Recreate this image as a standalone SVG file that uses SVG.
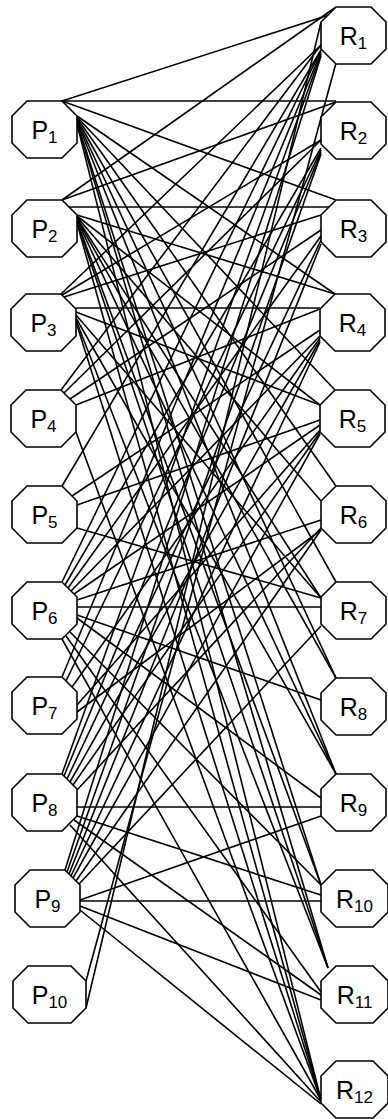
<svg xmlns="http://www.w3.org/2000/svg" width="388" height="1119" viewBox="0 0 388 1119">
<style>
.n{fill:#fff;stroke:#000;stroke-width:1.6}
.e line{stroke:#000;stroke-width:1.6}
.l{font-family:"Liberation Sans",Arial,sans-serif;font-size:25px;fill:#000;text-anchor:middle}
.s{font-size:17px}
</style>
<defs>
<path id="o" d="M15,0H50L65,15V42L50,57H15L0,42V15Z"/>
<path id="ow" d="M15,0H52L67,15V42L52,57H15L0,42V15Z"/>
<path id="ow2" d="M15,0H58L73,15V42L58,57H15L0,42V15Z"/>
</defs>
<rect width="388" height="1119" fill="#fff"/>
<g id="connectors" class="e">
<line x1="62" y1="101" x2="329" y2="15"/>
<line x1="62" y1="101" x2="336" y2="101"/>
<line x1="62" y1="101" x2="336" y2="200"/>
<line x1="77" y1="116" x2="335" y2="294"/>
<line x1="77" y1="117" x2="335" y2="390"/>
<line x1="77" y1="118" x2="336" y2="486"/>
<line x1="77" y1="119" x2="336" y2="582"/>
<line x1="77" y1="120" x2="336" y2="678"/>
<line x1="77" y1="121" x2="336" y2="774"/>
<line x1="77" y1="122" x2="321" y2="885"/>
<line x1="77" y1="123" x2="328" y2="968"/>
<line x1="77" y1="124" x2="321" y2="1100"/>
<line x1="62" y1="200" x2="336" y2="7"/>
<line x1="62" y1="200" x2="336" y2="102"/>
<line x1="63" y1="207" x2="336" y2="207"/>
<line x1="77" y1="215" x2="335" y2="294"/>
<line x1="77" y1="216" x2="320" y2="405"/>
<line x1="77" y1="217" x2="321" y2="501"/>
<line x1="77" y1="218" x2="321" y2="598"/>
<line x1="77" y1="219" x2="336" y2="678"/>
<line x1="77" y1="220" x2="336" y2="774"/>
<line x1="77" y1="221" x2="321" y2="885"/>
<line x1="77" y1="222" x2="328" y2="968"/>
<line x1="77" y1="223" x2="321" y2="1100"/>
<line x1="61" y1="294" x2="321" y2="45"/>
<line x1="62" y1="295" x2="321" y2="140"/>
<line x1="64" y1="297" x2="321" y2="215"/>
<line x1="76" y1="308" x2="320" y2="308"/>
<line x1="76" y1="312" x2="320" y2="405"/>
<line x1="76" y1="315" x2="321" y2="598"/>
<line x1="76" y1="318" x2="336" y2="774"/>
<line x1="76" y1="320" x2="328" y2="968"/>
<line x1="76" y1="322" x2="321" y2="1100"/>
<line x1="61" y1="390" x2="321" y2="45"/>
<line x1="64" y1="393" x2="321" y2="140"/>
<line x1="70" y1="399" x2="321" y2="230"/>
<line x1="76" y1="405" x2="320" y2="309"/>
<line x1="76" y1="432" x2="321" y2="1100"/>
<line x1="62" y1="486" x2="321" y2="50"/>
<line x1="72" y1="496" x2="320" y2="330"/>
<line x1="77" y1="505" x2="320" y2="420"/>
<line x1="77" y1="528" x2="321" y2="598"/>
<line x1="62" y1="582" x2="321" y2="50"/>
<line x1="65" y1="585" x2="321" y2="148"/>
<line x1="68" y1="588" x2="321" y2="236"/>
<line x1="71" y1="591" x2="320" y2="336"/>
<line x1="74" y1="594" x2="320" y2="425"/>
<line x1="77" y1="600" x2="321" y2="520"/>
<line x1="77" y1="607" x2="321" y2="607"/>
<line x1="77" y1="615" x2="321" y2="700"/>
<line x1="77" y1="618" x2="321" y2="798"/>
<line x1="70" y1="632" x2="321" y2="885"/>
<line x1="66" y1="636" x2="321" y2="992"/>
<line x1="62" y1="639" x2="321" y2="1100"/>
<line x1="62" y1="677" x2="321" y2="52"/>
<line x1="66" y1="681" x2="321" y2="150"/>
<line x1="72" y1="687" x2="320" y2="338"/>
<line x1="77" y1="705" x2="320" y2="430"/>
<line x1="77" y1="712" x2="321" y2="530"/>
<line x1="62" y1="774" x2="321" y2="54"/>
<line x1="64" y1="776" x2="321" y2="152"/>
<line x1="67" y1="779" x2="321" y2="240"/>
<line x1="70" y1="782" x2="320" y2="340"/>
<line x1="73" y1="785" x2="320" y2="432"/>
<line x1="77" y1="790" x2="321" y2="528"/>
<line x1="77" y1="807" x2="321" y2="807"/>
<line x1="77" y1="816" x2="321" y2="895"/>
<line x1="74" y1="820" x2="321" y2="995"/>
<line x1="70" y1="825" x2="321" y2="1102"/>
<line x1="65" y1="870" x2="321" y2="56"/>
<line x1="67" y1="872" x2="321" y2="154"/>
<line x1="69" y1="874" x2="321" y2="244"/>
<line x1="71" y1="876" x2="320" y2="342"/>
<line x1="73" y1="878" x2="320" y2="434"/>
<line x1="76" y1="881" x2="321" y2="530"/>
<line x1="79" y1="884" x2="321" y2="626"/>
<line x1="80" y1="900" x2="321" y2="816"/>
<line x1="80" y1="901" x2="321" y2="901"/>
<line x1="80" y1="906" x2="321" y2="1000"/>
<line x1="80" y1="910" x2="321" y2="1104"/>
<line x1="86" y1="981" x2="336" y2="63"/>
<line x1="86" y1="1008" x2="321" y2="22"/>
</g>
<g id="P1"><use href="#o" x="12" y="101" class="n"/><text class="l" x="44.5" y="139">P<tspan class="s" dy="4">1</tspan></text></g>
<g id="P2"><use href="#o" x="12" y="200" class="n"/><text class="l" x="44.5" y="238">P<tspan class="s" dy="4">2</tspan></text></g>
<g id="P3"><use href="#o" x="11" y="294" class="n"/><text class="l" x="43.5" y="332">P<tspan class="s" dy="4">3</tspan></text></g>
<g id="P4"><use href="#o" x="11" y="390" class="n"/><text class="l" x="43.5" y="428">P<tspan class="s" dy="4">4</tspan></text></g>
<g id="P5"><use href="#o" x="12" y="486" class="n"/><text class="l" x="44.5" y="524">P<tspan class="s" dy="4">5</tspan></text></g>
<g id="P6"><use href="#o" x="12" y="582" class="n"/><text class="l" x="44.5" y="620">P<tspan class="s" dy="4">6</tspan></text></g>
<g id="P7"><use href="#o" x="12" y="677" class="n"/><text class="l" x="44.5" y="715">P<tspan class="s" dy="4">7</tspan></text></g>
<g id="P8"><use href="#o" x="12" y="774" class="n"/><text class="l" x="44.5" y="812">P<tspan class="s" dy="4">8</tspan></text></g>
<g id="P9"><use href="#o" x="15" y="870" class="n"/><text class="l" x="47.5" y="908">P<tspan class="s" dy="4">9</tspan></text></g>
<g id="P10"><use href="#ow2" x="13" y="966" class="n"/><text class="l" x="49.5" y="1004">P<tspan class="s" dy="4">10</tspan></text></g>
<g id="R1"><use href="#o" x="321" y="7" class="n"/><text class="l" x="353.5" y="45">R<tspan class="s" dy="4">1</tspan></text></g>
<g id="R2"><use href="#o" x="321" y="102" class="n"/><text class="l" x="353.5" y="140">R<tspan class="s" dy="4">2</tspan></text></g>
<g id="R3"><use href="#o" x="321" y="200" class="n"/><text class="l" x="353.5" y="238">R<tspan class="s" dy="4">3</tspan></text></g>
<g id="R4"><use href="#o" x="320" y="294" class="n"/><text class="l" x="352.5" y="332">R<tspan class="s" dy="4">4</tspan></text></g>
<g id="R5"><use href="#o" x="320" y="390" class="n"/><text class="l" x="352.5" y="428">R<tspan class="s" dy="4">5</tspan></text></g>
<g id="R6"><use href="#o" x="321" y="486" class="n"/><text class="l" x="353.5" y="524">R<tspan class="s" dy="4">6</tspan></text></g>
<g id="R7"><use href="#o" x="321" y="582" class="n"/><text class="l" x="353.5" y="620">R<tspan class="s" dy="4">7</tspan></text></g>
<g id="R8"><use href="#o" x="321" y="678" class="n"/><text class="l" x="353.5" y="716">R<tspan class="s" dy="4">8</tspan></text></g>
<g id="R9"><use href="#o" x="321" y="774" class="n"/><text class="l" x="353.5" y="812">R<tspan class="s" dy="4">9</tspan></text></g>
<g id="R10"><use href="#ow" x="321" y="870" class="n"/><text class="l" x="354.5" y="908">R<tspan class="s" dy="4">10</tspan></text></g>
<g id="R11"><use href="#ow" x="321" y="966" class="n"/><text class="l" x="354.5" y="1004">R<tspan class="s" dy="4">11</tspan></text></g>
<g id="R12"><use href="#ow" x="321" y="1061" class="n"/><text class="l" x="354.5" y="1099">R<tspan class="s" dy="4">12</tspan></text></g>
</svg>
